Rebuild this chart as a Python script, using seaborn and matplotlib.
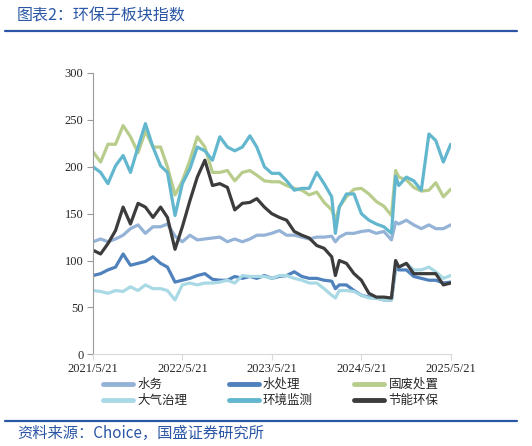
import numpy as np
import pandas as pd
import seaborn as sns
import matplotlib.pyplot as plt
from matplotlib.lines import Line2D

sns.set_style('white')
plt.rcParams['font.family'] = ['Liberation Serif', 'Noto Sans CJK SC', 'DejaVu Sans']

# 月度取点 + 两个突变日
dates = sorted(list(pd.date_range('2021-05-21', periods=49, freq=pd.DateOffset(months=1)))
               + [pd.Timestamp('2024-02-05'), pd.Timestamp('2024-10-08')])

shuiwu = [120, 123, 120, 123, 127, 134, 138, 129, 136, 136, 139, 126, 120, 127, 122, 123, 124,
          125, 120, 123, 120, 123, 127, 127, 129, 132, 127, 127, 125, 123, 125, 125, 126, 120,
          125, 129, 129, 131, 132, 129, 131, 122, 141, 139, 143, 138, 134, 138, 134, 134, 138]
shuichuli = [84, 86, 90, 93, 107, 95, 97, 99, 104, 97, 93, 77, 79, 81, 84, 86, 80,
             79, 79, 83, 81, 83, 81, 84, 81, 83, 84, 88, 83, 81, 81, 79, 78, 70,
             74, 74, 68, 63, 61, 60, 58, 58, 92, 90, 90, 83, 81, 79, 79, 76, 77]
gufei = [216, 205, 224, 224, 244, 232, 215, 238, 221, 221, 200, 170, 185, 207, 232, 221, 194,
         194, 196, 185, 194, 196, 191, 185, 184, 184, 180, 177, 175, 170, 173, 162, 154, 143,
         157, 168, 176, 177, 171, 163, 158, 148, 196, 189, 186, 178, 174, 175, 183, 168, 176]
daqi = [68, 67, 65, 68, 67, 72, 68, 74, 70, 70, 68, 58, 74, 76, 74, 76, 76,
        77, 79, 76, 84, 83, 83, 83, 81, 84, 84, 81, 79, 76, 76, 70, 63, 60,
        68, 68, 67, 63, 60, 60, 58, 58, 96, 93, 97, 90, 90, 93, 88, 81, 84]
jiance = [200, 194, 182, 201, 212, 194, 221, 246, 221, 201, 194, 148, 182, 198, 221, 217, 207,
          232, 221, 217, 221, 233, 221, 200, 193, 193, 185, 175, 177, 177, 194, 182, 168, 129,
          157, 171, 171, 150, 143, 139, 136, 129, 190, 180, 189, 185, 175, 235, 228, 205, 224]
jieneng = [111, 107, 118, 132, 157, 139, 161, 157, 146, 157, 146, 112, 136, 164, 189, 207, 180,
           182, 178, 154, 161, 162, 166, 157, 150, 146, 143, 131, 127, 124, 116, 113, 104, 84,
           100, 97, 86, 79, 65, 61, 61, 60, 100, 93, 97, 86, 86, 86, 86, 74, 76]

names = ['水务', '水处理', '固废处置', '大气治理', '环境监测', '节能环保']
colors = ['#95B3D7', '#4F81BD', '#B8CD8C', '#A9D9E5', '#62B7CF', '#3C3C3C']
series = [shuiwu, shuichuli, gufei, daqi, jiance, jieneng]

df = pd.concat([pd.DataFrame({'date': dates, 'value': v, 'name': n})
                for n, v in zip(names, series)], ignore_index=True)

fig = plt.figure(figsize=(5.32, 4.46), dpi=100)
ax = fig.add_axes([93 / 532, 1 - 354.3 / 446, (450.7 - 93) / 532, (354.3 - 73) / 446])

sns.lineplot(data=df, x='date', y='value', hue='name', hue_order=names,
             palette=dict(zip(names, colors)), linewidth=2.3, ax=ax, legend=False)

ax.set_ylim(0, 300)
ax.set_yticks(np.arange(0, 301, 50))
ax.set_xlim(pd.Timestamp('2021-05-21'), pd.Timestamp('2025-05-21'))
xt = pd.to_datetime(['2021-05-21', '2022-05-21', '2023-05-21', '2024-05-21', '2025-05-21'])
ax.set_xticks(xt)
ax.set_xticklabels([f'{d.year}/{d.month}/{d.day}' for d in xt])
ax.set_xlabel('')
ax.set_ylabel('')
for s in ['top', 'right']:
    ax.spines[s].set_visible(False)
ax.spines['left'].set_color('#9A9A9A')
ax.spines['bottom'].set_color('#D9D9D9')
ax.tick_params(axis='y', direction='out', length=4, color='#9A9A9A', labelsize=9, pad=3)
ax.tick_params(axis='x', direction='out', length=4, color='#D9D9D9', labelsize=9, pad=2)
ax.tick_params(left=True, bottom=True)

# 图例：两行三列
order = [0, 3, 1, 4, 2, 5]
handles = [Line2D([], [], color=colors[i], linewidth=3.5) for i in order]
labels = [names[i] for i in order]
fig.legend(handles, labels, ncol=3, loc='upper left', bbox_to_anchor=(103 / 532, 1 - 378 / 446),
           frameon=False, prop={'family': ['Noto Sans CJK SC'], 'size': 9},
           handlelength=2.4, handletextpad=0.35, columnspacing=3.3, labelspacing=0.25,
           borderpad=0, borderaxespad=0)

blue = '#2A56A5'
fig.text(17 / 532, 1 - 16 / 446, '图表2：环保子板块指数', color=blue, fontsize=11.5,
         family=['Noto Sans CJK SC'], fontweight='light', va='center', ha='left')
fig.add_artist(Line2D([5 / 532, 517 / 532], [1 - 31 / 446] * 2, color=blue, linewidth=1.6))
fig.add_artist(Line2D([5 / 532, 517 / 532], [1 - 421 / 446] * 2, color=blue, linewidth=1.6))
fig.text(17 / 532, 1 - 433 / 446, '资料来源：Choice，国盛证券研究所', color=blue, fontsize=11,
         family=['Noto Sans CJK SC', 'DejaVu Sans'], fontweight='light', va='center', ha='left')

fig.savefig('out.png', dpi=100)
